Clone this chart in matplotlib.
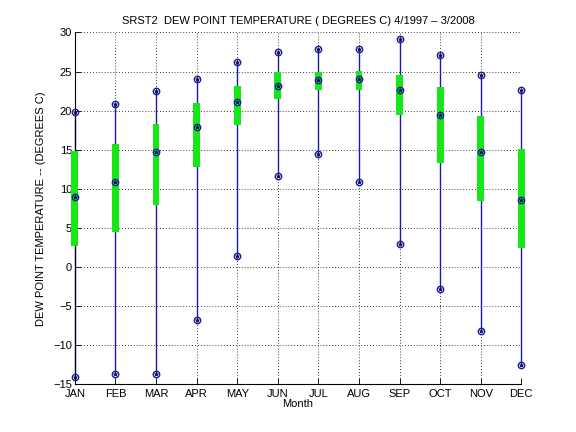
"""Monthly dew point temperature ranges, SRST2 4/1997 - 3/2008."""

import matplotlib

matplotlib.use("Agg")
import matplotlib.pyplot as plt

months = ["JAN", "FEB", "MAR", "APR", "MAY", "JUN",
          "JUL", "AUG", "SEP", "OCT", "NOV", "DEC"]
t_max = [19.8, 20.9, 22.5, 24.0, 26.2, 27.5, 27.9, 27.9, 29.2, 27.1, 24.6, 22.7]
t_min = [-14.0, -13.6, -13.6, -6.7, 1.4, 11.7, 14.5, 10.9, 3.0, -2.8, -8.2, -12.5]
t_median = [8.9, 10.9, 14.7, 17.9, 21.1, 23.2, 23.9, 24.0, 22.7, 19.5, 14.7, 8.6]
q_upper = [14.8, 15.7, 18.3, 21.0, 23.2, 24.9, 25.0, 25.1, 24.6, 23.0, 19.3, 15.1]
q_lower = [2.7, 4.5, 8.0, 12.8, 18.2, 21.5, 22.6, 22.6, 19.5, 13.3, 8.4, 2.4]

plt.rcParams["font.family"] = ["Liberation Sans", "DejaVu Sans"]
plt.rcParams["font.size"] = 8

x = list(range(1, len(months) + 1))
blue = "#1a1aa8"

fig = plt.figure(figsize=(5.76, 4.32), dpi=100)
ax = fig.add_axes([0.13, 0.11, 0.775, 0.815])

ax.vlines(x, t_min, t_max, color=blue, linewidth=1.0, zorder=2, clip_on=False)
heights = [u - l for u, l in zip(q_upper, q_lower)]
ax.bar(x, heights, bottom=q_lower, width=0.17, color="#16e816",
       edgecolor="none", zorder=3, clip_on=False)
for vals in (t_max, t_min, t_median):
    ax.plot(x, vals, "o", mfc="none", mec=blue, ms=4.6, mew=1.0,
            zorder=4, clip_on=False)
    ax.plot(x, vals, "*", color="#101040", ms=3, mew=0.5,
            zorder=5, clip_on=False)

ax.set_xlim(1, 12)
ax.set_ylim(-15, 30)
ax.set_xticks(x)
ax.set_xticklabels(months)
ax.set_yticks(range(-15, 31, 5))
ax.grid(True, color="black", linestyle=(0, (1, 2.5)), linewidth=0.6)
ax.set_axisbelow(True)
for side in ("top", "right"):
    ax.spines[side].set_visible(False)
ax.tick_params(direction="in", length=4, width=0.6, pad=2)
ax.tick_params(axis="x", pad=3.5)

ax.set_title("SRST2  DEW POINT TEMPERATURE ( DEGREES C) 4/1997 \u2013 3/2008",
             fontsize=8, pad=6)
ax.set_xlabel("Month", labelpad=0)
ax.set_ylabel("DEW POINT TEMPERATURE -- (DEGREES C)", labelpad=5)

fig.savefig("out.png", dpi=100)
